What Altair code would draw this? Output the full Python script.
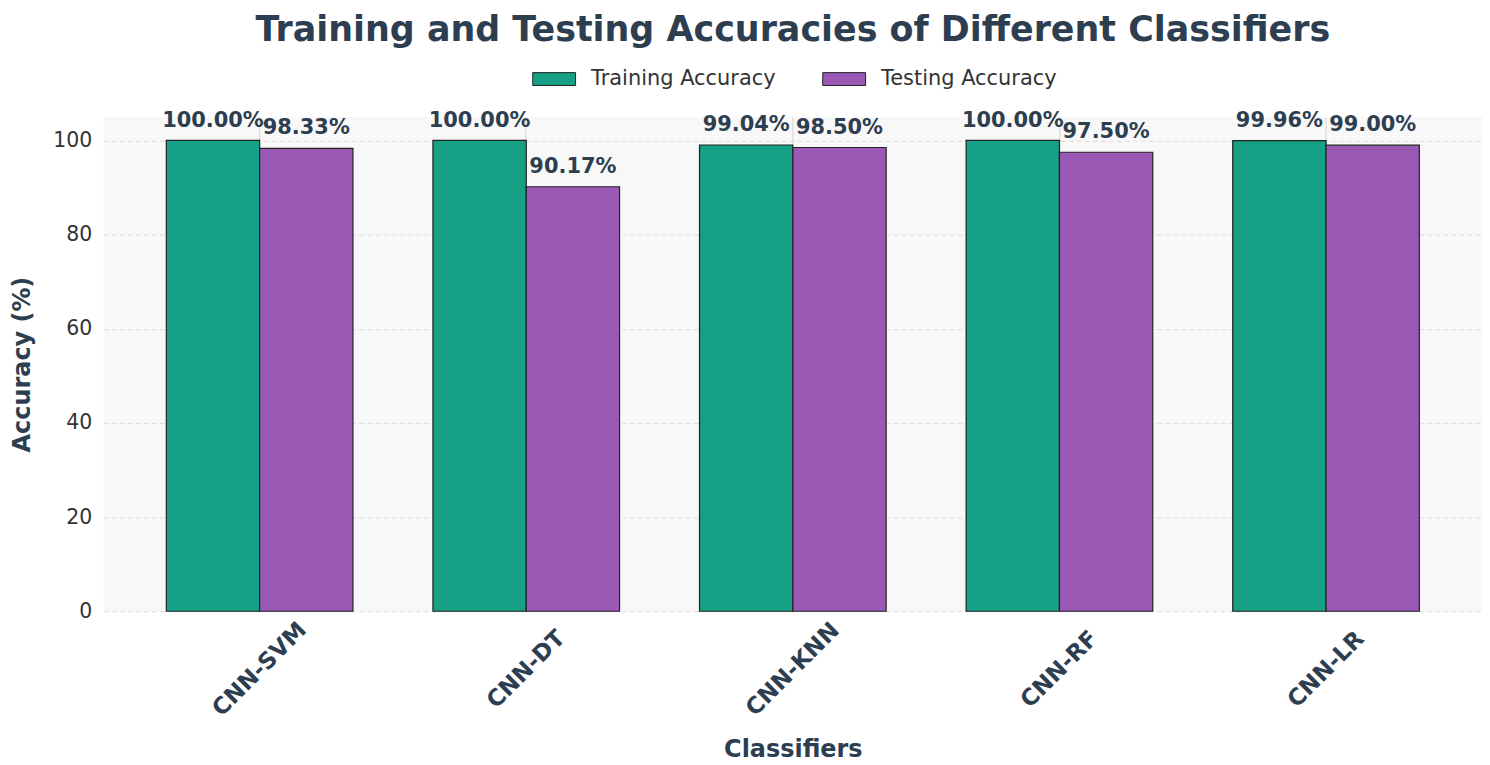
import altair as alt
import pandas as pd

classifiers = ["CNN-SVM", "CNN-DT", "CNN-KNN", "CNN-RF", "CNN-LR"]
training = [100.00, 100.00, 99.04, 100.00, 99.96]
testing = [98.33, 90.17, 98.50, 97.50, 99.00]
series = ["Training Accuracy", "Testing Accuracy"]
colors = ["#16a085", "#9b59b6"]
y_ticks = [0, 20, 40, 60, 80, 100]

rows = []
for i, c in enumerate(classifiers):
    rows.append({"Classifier": c, "Series": series[0], "Accuracy": training[i]})
    rows.append({"Classifier": c, "Series": series[1], "Accuracy": testing[i]})
df = pd.DataFrame(rows)
df["Label"] = df["Accuracy"].map(lambda v: f"{v:.2f}%")

FONT = "DejaVu Sans"
DARK = "#2c3e50"

x = alt.X(
    "Classifier:N",
    sort=classifiers,
    scale=alt.Scale(paddingInner=0.3, paddingOuter=0.235),
    axis=alt.Axis(
        title="Classifiers",
        labelAngle=-45,
        labelAlign="center",
        labelBaseline="middle",
        labelPadding=58,
        labelOverlap=False,
        labelFont=FONT,
        labelFontSize=23,
        labelFontWeight="bold",
        labelColor=DARK,
        ticks=False,
        domain=False,
        grid=True,
        bandPosition=0.5,
        gridColor="#d4d4d4",
        gridWidth=1,
        titleFont=FONT,
        titleFontSize=24,
        titleFontWeight="bold",
        titleColor=DARK,
        titleY=139,
        titleBaseline="middle",
    ),
)
xo = alt.XOffset("Series:N", sort=series, scale=alt.Scale(paddingInner=0, paddingOuter=0))
y = alt.Y(
    "Accuracy:Q",
    scale=alt.Scale(domain=[0, 105], nice=False, zero=True),
    axis=alt.Axis(
        values=y_ticks,
        title="Accuracy (%)",
        labelFont=FONT,
        labelFontSize=20.5,
        labelColor="#333333",
        labelPadding=12,
        ticks=False,
        domain=False,
        grid=True,
        gridDash=[5, 3],
        gridColor="#dcdcdc",
        gridWidth=1,
        titleFont=FONT,
        titleFontSize=24,
        titleFontWeight="bold",
        titleColor=DARK,
        titleX=-81,
        titleY=248,
        titleAngle=-90,
        titleAlign="center",
        titleBaseline="middle",
    ),
)
color = alt.Color(
    "Series:N",
    sort=series,
    scale=alt.Scale(domain=series, range=colors),
    legend=alt.Legend(
        title=None,
        orient="none",
        legendX=430,
        legendY=-60,
        direction="horizontal",
        symbolType="M-1,-0.3H1V0.3H-1Z",
        symbolSize=1849,
        symbolStrokeColor="#222222",
        symbolStrokeWidth=1,
        symbolOpacity=1,
        labelFont=FONT,
        labelFontSize=21,
        labelColor="#333333",
        labelOffset=15,
        labelLimit=500,
        columnPadding=44,
        padding=0,
    ),
)

base = alt.Chart(df)
bars = base.mark_bar(stroke="#222222", strokeWidth=1.2, opacity=1).encode(
    x=x, xOffset=xo, y=y, color=color
)
labels = base.mark_text(
    dy=-14, baseline="alphabetic", align="center", font=FONT, fontSize=21,
    fontWeight="bold", color=DARK
).encode(x=x, xOffset=xo, y=y, text="Label:N")

chart = (
    alt.layer(bars, labels)
    .properties(
        width=1383,
        height=496,
        title=alt.TitleParams(
            text="Training and Testing Accuracies of Different Classifiers",
            font=FONT,
            fontSize=35,
            fontWeight="bold",
            color=DARK,
            anchor="middle",
            frame="group",
            baseline="alphabetic",
            offset=-19,
        ),
        autosize=alt.AutoSizeParams(type="none"),
        padding={"left": 96, "top": 108, "right": 0, "bottom": 153},
        background="white",
    )
    .configure(font=FONT)
    .configure_view(fill="#f8f8f8", strokeWidth=0)
)

chart.save("out.html", embed_options={"renderer": "svg", "actions": False})
